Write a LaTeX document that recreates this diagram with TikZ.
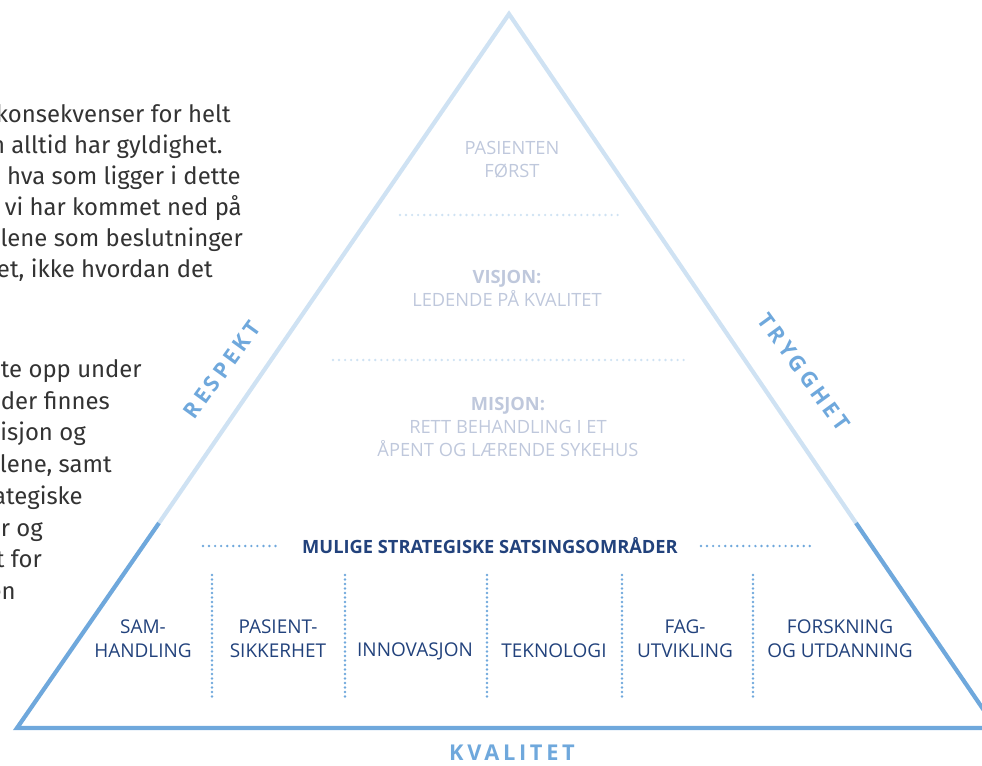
\documentclass[tikz,border=0pt]{standalone}
\usepackage{fontspec}
\setmainfont{Fira Sans}
\newfontfamily\capsfont{Open Sans}
\newfontfamily\spacedfont[LetterSpace=17]{Open Sans}
\definecolor{pale}{HTML}{CFE2F3}
\definecolor{sky}{HTML}{6FA8DC}
\definecolor{navy}{HTML}{22427C}
\definecolor{faint}{HTML}{BFC8DC}
\definecolor{ink}{HTML}{333333}
\begin{document}
\begin{tikzpicture}[x=0.25mm,y=-0.25mm,
  body/.style={anchor=base east,inner sep=0pt,text=ink,font=\fontsize{17}{22}\selectfont},
  faded/.style={align=center,inner sep=0pt,text=faint,font=\capsfont\fontsize{13}{16.5}\selectfont},
  area/.style={align=center,inner sep=0pt,text=navy,font=\capsfont\fontsize{13.5}{16.8}\selectfont},
  side/.style={inner sep=0pt,text=sky,font=\spacedfont\bfseries\fontsize{15.5}{16}\selectfont},
  dots/.style={line width=1.9pt,line cap=round,dash pattern=on 0pt off 4.3pt}]
\useasboundingbox (0,0) rectangle (982,766);
\clip (0,0) rectangle (982,766);
\node[body] (p1) at (231,123) {konsekvenser for helt};
\node[body] (p2) at (223,154) {n alltid har gyldighet.};
\node[body] (p3) at (241,185) {hva som ligger i dette};
\node[body] (p4) at (242,216) {vi har kommet ned på};
\node[body] (p5) at (243,247) {lene som beslutninger};
\node[body] (p6) at (213,278) {et, ikke hvordan det};
\node[body] (q1) at (142,377) {te opp under};
\node[body] (q2) at (110,409) {nder finnes};
\node[body] (q3) at (86,440) {isjon og};
\node[body] (q4) at (112,472) {lene, samt};
\node[body] (q5) at (83,504) {ategiske};
\node[body] (q6) at (43,536) {r og};
\node[body] (q7) at (42,567) {t for};
\node[body] (q8) at (16,599) {en};
\draw[pale,line width=3pt] (159,523)--(509,14)--(856,523);
\draw[sky,line width=3pt,line join=miter] (159,523)--(17,728)--(996,728)--(856,523);
\draw[dots,pale] (400,215)--(620,215);
\draw[dots,pale] (333,360)--(685,360);
\draw[dots,sky] (203,546)--(280,546);
\draw[dots,sky] (701,546)--(813,546);
\draw[dots,sky,dash pattern=on 0pt off 3.2pt] (212,575)--(212,700);
\draw[dots,sky,dash pattern=on 0pt off 3.2pt] (345,575)--(345,700);
\draw[dots,sky,dash pattern=on 0pt off 3.2pt] (487,575)--(487,700);
\draw[dots,sky,dash pattern=on 0pt off 3.2pt] (622,575)--(622,700);
\draw[dots,sky,dash pattern=on 0pt off 3.2pt] (753,575)--(753,700);
\node[faded] (first) at (512,160) {PASIENTEN\\FØRST};
\node[faded] (vision) at (507,288) {\textbf{VISJON:}\\LEDENDE PÅ KVALITET};
\node[faded] (mission) at (508,427) {\textbf{MISJON:}\\RETT BEHANDLING I ET\\ÅPENT OG LÆRENDE SYKEHUS};
\node[area,font=\capsfont\bfseries\fontsize{13}{16.5}\selectfont] (areas) at (490,546) {MULIGE STRATEGISKE SATSINGSOMRÅDER};
\node[area] (cooperation) at (143,639) {SAM-\\HANDLING};
\node[area] (safetypat) at (278,639) {PASIENT-\\SIKKERHET};
\node[area] (innovation) at (415,651) {INNOVASJON};
\node[area] (technology) at (554,651) {TEKNOLOGI};
\node[area] (development) at (685,639) {FAG-\\UTVIKLING};
\node[area] (research) at (840,639) {FORSKNING\\OG UTDANNING};
\node[side,rotate=54] (respect) at (222,370) {RESPEKT};
\node[side,rotate=-54] (safety) at (804,372) {TRYGGHET};
\node[side] (quality) at (512,753) {KVALITET};
\end{tikzpicture}
\end{document}
